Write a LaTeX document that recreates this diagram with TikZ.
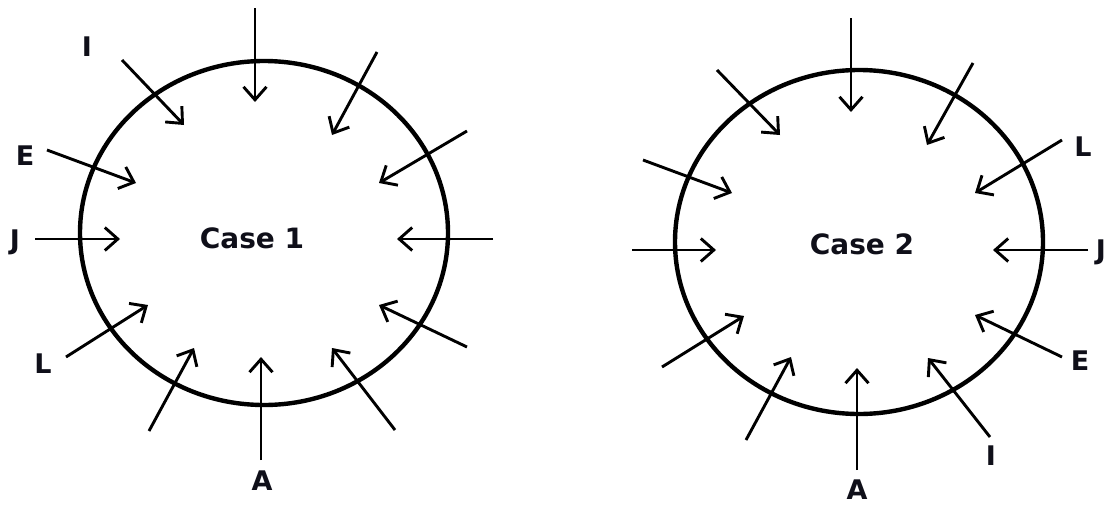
\documentclass[tikz,border=0pt]{standalone}
\usepackage{fontspec}
\setmainfont{DejaVu Sans}
\usetikzlibrary{arrows.meta,shapes.geometric}
\definecolor{inkdark}{RGB}{15,15,25}
\tikzset{
  ring/.style={draw, line width=4.4pt, ellipse, inner sep=0pt,
               minimum width=368pt, minimum height=344pt},
  push/.style={line width=2.9pt, -{Straight Barb[length=13pt,width=23pt]}},
  letter/.style={font=\fontsize{27}{30}\selectfont\bfseries, text=inkdark, inner sep=0pt},
  casename/.style={font=\fontsize{28}{32}\selectfont\bfseries, text=inkdark}
}

\begin{document}
\begin{tikzpicture}[x=1pt, y=-1pt]
  \useasboundingbox (0,0) rectangle (1112,506);
  % Case 1
  \node[ring] (ringA) at (264,233) {};
  \node[casename] (caseA) at (252,238) {Case 1};
  \foreach \k/\xa/\ya/\xb/\yb in {1/255/8/255/102, 2/122/60/184/125, 3/47/150/136/183,
      4/35/239/120/239, 5/66/357/148/305, 6/149/431/194/348, 7/261/460/261/357,
      8/377/52/332/135, 9/467/131/379/183, 10/493/239/397/239, 11/467/347/379/305,
      12/395/430/332/348}{
    \coordinate (a\k s) at (\xa,\ya);
    \coordinate (a\k e) at (\xb,\yb);
    \draw[push] (a\k s) -- (a\k e);
  }
  \node[letter] (aI) at (87,47) {I};
  \node[letter] (aE) at (25,156) {E};
  \node[letter] (aJ) at (15,242) {J};
  \node[letter] (aL) at (43,364) {L};
  \node[letter] (aA) at (262,481) {A};
  % Case 2
  \node[ring] (ringB) at (859,242) {};
  \node[casename] (caseB) at (862,244) {Case 2};
  \foreach \k/\xa/\ya/\xb/\yb in {1/851/18/851/112, 2/717/70/780/135, 3/643/160/732/193,
      4/632/250/716/250, 5/662/367/744/316, 6/746/440/791/357, 7/857/470/857/368,
      8/973/63/927/145, 9/1062/140/975/193, 10/1088/250/993/250, 11/1062/357/975/315,
      12/990/437/928/358}{
    \coordinate (b\k s) at (\xa,\ya);
    \coordinate (b\k e) at (\xb,\yb);
    \draw[push] (b\k s) -- (b\k e);
  }
  \node[letter] (bL) at (1083,147) {L};
  \node[letter] (bJ) at (1101,252) {J};
  \node[letter] (bE) at (1080,361) {E};
  \node[letter] (bI) at (991,456) {I};
  \node[letter] (bA) at (857,490) {A};
\end{tikzpicture}
\end{document}
